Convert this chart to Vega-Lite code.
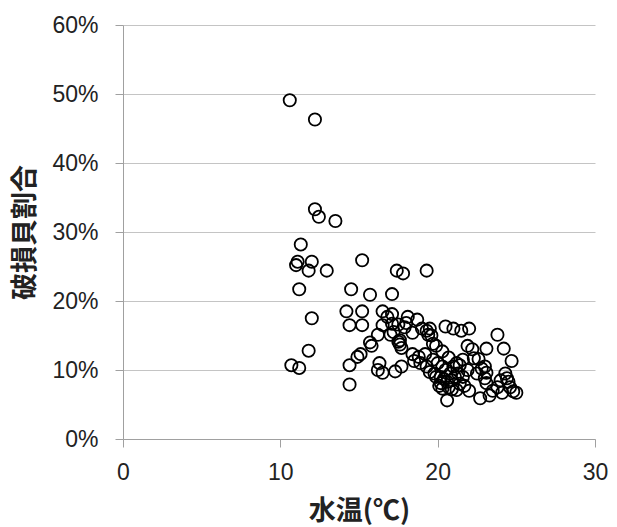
{
  "$schema": "https://vega.github.io/schema/vega-lite/v6.json",
  "width": 472,
  "height": 414,
  "autosize": "none",
  "padding": {"left": 123, "top": 25, "right": 22, "bottom": 88},
  "background": "white",
  "config": {"view": {"stroke": null}},
  "data": {"values": [
    {"t":10.6,"r":0.491},{"t":12.2,"r":0.463},{"t":12.2,"r":0.333},{"t":12.45,"r":0.322},{"t":13.5,"r":0.316},
    {"t":11.3,"r":0.282},{"t":11.1,"r":0.257},{"t":11.0,"r":0.252},{"t":12.0,"r":0.257},{"t":11.8,"r":0.244},
    {"t":12.95,"r":0.244},{"t":15.2,"r":0.259},{"t":11.2,"r":0.217},{"t":14.5,"r":0.217},{"t":15.7,"r":0.209},
    {"t":12.0,"r":0.175},{"t":14.2,"r":0.185},{"t":15.2,"r":0.185},{"t":14.4,"r":0.165},{"t":15.2,"r":0.165},
    {"t":11.8,"r":0.128},{"t":10.7,"r":0.107},{"t":11.2,"r":0.103},{"t":14.4,"r":0.107},{"t":14.4,"r":0.079},
    {"t":17.4,"r":0.244},{"t":17.8,"r":0.24},{"t":19.3,"r":0.244},{"t":17.1,"r":0.21},{"t":16.5,"r":0.185},
    {"t":17.1,"r":0.181},{"t":16.5,"r":0.165},{"t":17.1,"r":0.167},{"t":17.5,"r":0.166},{"t":18.1,"r":0.177},
    {"t":18.7,"r":0.173},{"t":17.9,"r":0.162},{"t":18.4,"r":0.154},{"t":17.0,"r":0.151},{"t":16.2,"r":0.151},
    {"t":19.3,"r":0.157},{"t":19.4,"r":0.151},{"t":19.0,"r":0.16},{"t":20.5,"r":0.163},{"t":21.0,"r":0.16},
    {"t":21.5,"r":0.157},{"t":19.7,"r":0.138},{"t":19.5,"r":0.16},{"t":15.7,"r":0.14},{"t":15.8,"r":0.135},
    {"t":17.5,"r":0.141},{"t":17.6,"r":0.137},{"t":17.7,"r":0.132},{"t":15.1,"r":0.123},{"t":14.9,"r":0.119},
    {"t":16.3,"r":0.11},{"t":16.2,"r":0.10},{"t":16.5,"r":0.096},{"t":17.3,"r":0.098},{"t":17.7,"r":0.105},
    {"t":18.4,"r":0.123},{"t":18.8,"r":0.119},{"t":19.3,"r":0.105},{"t":19.5,"r":0.097},{"t":19.7,"r":0.115},
    {"t":20.2,"r":0.09},{"t":20.6,"r":0.056},{"t":20.7,"r":0.075},
    {"t":21.9,"r":0.135},{"t":22.2,"r":0.13},{"t":22.6,"r":0.116},{"t":23.1,"r":0.131},{"t":23.8,"r":0.151},
    {"t":24.2,"r":0.131},{"t":24.7,"r":0.113},{"t":23.1,"r":0.096},{"t":23.0,"r":0.088},{"t":23.1,"r":0.081},
    {"t":22.7,"r":0.059},{"t":23.3,"r":0.063},{"t":24.1,"r":0.067},{"t":24.5,"r":0.083},{"t":24.6,"r":0.075},
    {"t":25.0,"r":0.067},{"t":23.8,"r":0.075},{"t":21.9,"r":0.10},{"t":21.6,"r":0.09},{"t":21.4,"r":0.08},
    {"t":21.2,"r":0.071},{"t":20.2,"r":0.081},{"t":19.9,"r":0.09},{"t":19.8,"r":0.095},{"t":21.0,"r":0.105},
    {"t":21.4,"r":0.107},{"t":20.0,"r":0.11},{"t":20.3,"r":0.105},{"t":20.5,"r":0.10},{"t":20.8,"r":0.095},
    {"t":20.4,"r":0.087},{"t":20.6,"r":0.083},{"t":20.9,"r":0.085},{"t":21.1,"r":0.09},{"t":21.3,"r":0.095},
    {"t":20.1,"r":0.077},{"t":20.3,"r":0.073},{"t":20.9,"r":0.072},{"t":21.7,"r":0.077},{"t":22.0,"r":0.07},
    {"t":22.5,"r":0.095},{"t":22.8,"r":0.102},{"t":23.0,"r":0.105},{"t":24.3,"r":0.095},{"t":24.4,"r":0.088},
    {"t":24.0,"r":0.085},{"t":23.5,"r":0.07},{"t":24.8,"r":0.069},{"t":22.3,"r":0.117},{"t":21.6,"r":0.115},
    {"t":21.2,"r":0.11},{"t":20.7,"r":0.118},{"t":20.3,"r":0.127},{"t":19.9,"r":0.135},{"t":22.0,"r":0.16},
    {"t":19.2,"r":0.123},{"t":18.9,"r":0.11},{"t":18.5,"r":0.113},{"t":17.2,"r":0.155},{"t":18.0,"r":0.168},
    {"t":19.6,"r":0.15},{"t":16.8,"r":0.177},{"t":17.6,"r":0.143}
  ]},
  "mark": {"type": "point", "shape": "circle", "filled": false, "size": 150, "stroke": "black", "strokeWidth": 1.8, "opacity": 1},
  "encoding": {
    "x": {
      "field": "t", "type": "quantitative",
      "scale": {"domain": [0, 30], "nice": false, "zero": false},
      "axis": {
        "title": "水温(℃)", "values": [0, 10, 20, 30], "grid": false,
        "domainColor": "#a0a0a0", "tickColor": "#a0a0a0", "tickSize": 8,
        "labelFont": "Liberation Sans", "labelFontSize": 23, "labelColor": "#222222",
        "labelBaseline": "middle", "labelPadding": 25, "labelFlush": false,
        "titleFont": "Noto Sans CJK JP", "titleFontSize": 27, "titleFontWeight": "bold", "titleColor": "#222222",
        "titleBaseline": "middle", "titleY": 72, "titleX": 236
      }
    },
    "y": {
      "field": "r", "type": "quantitative",
      "scale": {"domain": [0, 0.6], "nice": false},
      "axis": {
        "title": "破損貝割合", "values": [0, 0.1, 0.2, 0.3, 0.4, 0.5, 0.6], "format": ".0%",
        "grid": true, "gridColor": "#c4c4c4", "gridWidth": 1,
        "domainColor": "#a0a0a0", "tickColor": "#a0a0a0", "tickSize": 8,
        "labelFont": "Liberation Sans", "labelFontSize": 23, "labelColor": "#222222",
        "labelPadding": 17, "labelFlush": false,
        "titleFont": "Noto Sans CJK JP", "titleFontSize": 27, "titleFontWeight": "bold", "titleColor": "#222222",
        "titleAngle": -90, "titleBaseline": "middle", "titleAlign": "center", "titleX": -98, "titleY": 207
      }
    }
  }
}
